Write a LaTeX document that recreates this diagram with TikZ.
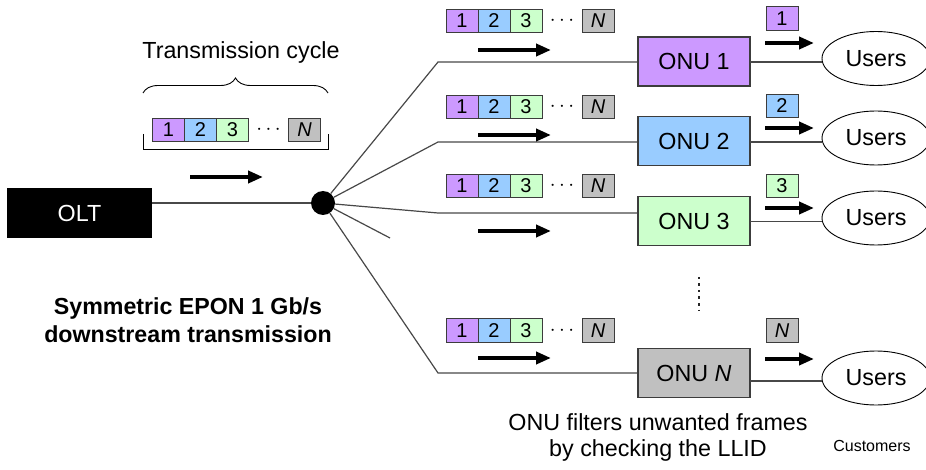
\documentclass[tikz,border=0pt]{standalone}
\usepackage{fontspec}
\setmainfont{Liberation Sans}
\usetikzlibrary{arrows.meta,decorations.pathreplacing,shapes.geometric,calc}

\definecolor{cyOne}{RGB}{204,153,255}
\definecolor{cyTwo}{RGB}{153,204,255}
\definecolor{cyThree}{RGB}{204,255,204}
\definecolor{cyN}{RGB}{192,192,192}
\definecolor{fibrecol}{RGB}{72,72,72}
\definecolor{edgecol}{RGB}{60,60,60}

% one transmission cycle: frames 1, 2, 3, dots, N
\newcommand\cyclerow[3]{%
  \node[slot,fill=cyOne,anchor=west] (#1-1) at (#2,#3) {1};
  \node[slot,fill=cyTwo,anchor=west] (#1-2) at (#1-1.east) {2};
  \node[slot,fill=cyThree,anchor=west] (#1-3) at (#1-2.east) {3};
  \node[slot,fill=cyN,anchor=west] (#1-n) at ($(#1-3.east)+(40,0)$) {\itshape N};
  \node[font=\fontsize{20}{20}\selectfont,inner sep=0pt] (#1-d) at ($(#1-3.east)!0.5!(#1-n.west)$) {$\cdots$};
}

\begin{document}
\begin{tikzpicture}[x=1pt,y=-1pt,
  every node/.style={font=\fontsize{23.3}{26.6}\selectfont},
  slot/.style={draw=edgecol,line width=0.8pt,outer sep=0pt,inner sep=0pt,
    minimum width=32pt,minimum height=23.5pt,font=\fontsize{20}{20}\selectfont},
  unit/.style={draw=edgecol,line width=1.1pt,minimum width=112pt,minimum height=49pt,inner sep=0pt},
  crowd/.style={ellipse,draw=black,line width=0.9pt,minimum width=108pt,minimum height=54pt,inner sep=0pt},
  fibre/.style={draw=fibrecol,line width=1.2pt},
  flow/.style={line width=4.5pt,-{Triangle[length=15pt,width=12pt]}},
]
\clip (0,0) rectangle (926,470);

% OLT and passive splitter
\node[fill=black,text=white,minimum width=145pt,minimum height=50pt,inner sep=0pt] (olt) at (79.5,213) {OLT};
\node[circle,fill=black,minimum size=24pt,inner sep=0pt] (split) at (323,203) {};

% ONUs
\node[unit,fill=cyOne]   (onu1) at (694,61.5) {ONU 1};
\node[unit,fill=cyTwo]   (onu2) at (694,141)  {ONU 2};
\node[unit,fill=cyThree] (onu3) at (694,221)  {ONU 3};
\node[unit,fill=cyN]     (onun) at (694,373)  {ONU \textit{N}};

% user groups
\node[crowd] (users1) at (876,58.5) {Users};
\node[crowd] (users2) at (876,138)  {Users};
\node[crowd] (users3) at (876,218)  {Users};
\node[crowd] (usersn) at (876,378)  {Users};

% fibre routing
\coordinate (bend1) at (438,62);
\coordinate (bend2) at (438,142);
\coordinate (bend3) at (438,213);
\coordinate (bendn) at (438,373);
\coordinate (stub)  at (390,238);
\coordinate (out1) at (750,62);
\coordinate (out2) at (750,142);
\coordinate (out3) at (750,221.7);
\coordinate (outn) at (750,381);

\draw[fibre] (olt.east |- split) -- (split);
\foreach \k in {1,2,3,n}
  \draw[fibre] (split) -- (bend\k) -- (bend\k -| onu\k.west);
\draw[fibre] (split) -- (stub);
\foreach \k in {1,2,3,n}
  \draw[fibre] (out\k) -- (out\k -| users\k.west);

% transmission cycle sent by the OLT
\cyclerow{cyc}{152.5}{130}
\draw[line width=0.9pt,decorate,decoration={brace,amplitude=15pt}] (143,93) -- (328,93);
\draw[line width=0.9pt] (143,134) -- (143,149) -- (328,149) -- (328,134);
\node[anchor=base] (cyclelabel) at (241,58.3) {Transmission cycle};
\coordinate (oltA) at (190,177);
\coordinate (oltB) at (263,177);
\draw[flow] (oltA) -- (oltB);

% broadcast copies on each drop fibre
\cyclerow{rowa}{446}{20.8}
\cyclerow{rowb}{446}{106.7}
\cyclerow{rowc}{446}{186}
\cyclerow{rown}{446}{330.5}

\foreach \k/\y in {1/50,2/135,3/231,n/358}{
  \coordinate (inA\k) at (478,\y);
  \coordinate (inB\k) at (551,\y);
  \draw[flow] (inA\k) -- (inB\k);
}

% frames kept by each ONU
\node[slot,fill=cyOne]   (pick1) at (782,18.5)  {1};
\node[slot,fill=cyTwo]   (pick2) at (782,106)   {2};
\node[slot,fill=cyThree] (pick3) at (782,186)   {3};
\node[slot,fill=cyN]     (pickn) at (782,330.5) {\itshape N};

\foreach \k/\y in {1/43,2/128,3/208,n/359}{
  \coordinate (dnA\k) at (765,\y);
  \coordinate (dnB\k) at (814,\y);
  \draw[flow] (dnA\k) -- (dnB\k);
}

% more ONUs
\coordinate (vdTop) at (699,277);
\coordinate (vdBot) at (699,310);
\draw[line width=2.5pt,color=black!85,dash pattern=on 2.5pt off 4pt] (vdTop) -- (vdBot);

% captions
\node[font=\bfseries\fontsize{23.2}{27.6}\selectfont,align=center,inner sep=0pt] (caption) at (188,320.3)
  {Symmetric EPON 1 Gb/s\\downstream transmission};
\node[align=center,inner sep=0pt] (note) at (658,437.3)
  {ONU filters unwanted frames\\by checking the LLID};
\node[font=\fontsize{16}{18}\selectfont] (cust) at (872,445.7) {Customers};
\end{tikzpicture}
\end{document}
